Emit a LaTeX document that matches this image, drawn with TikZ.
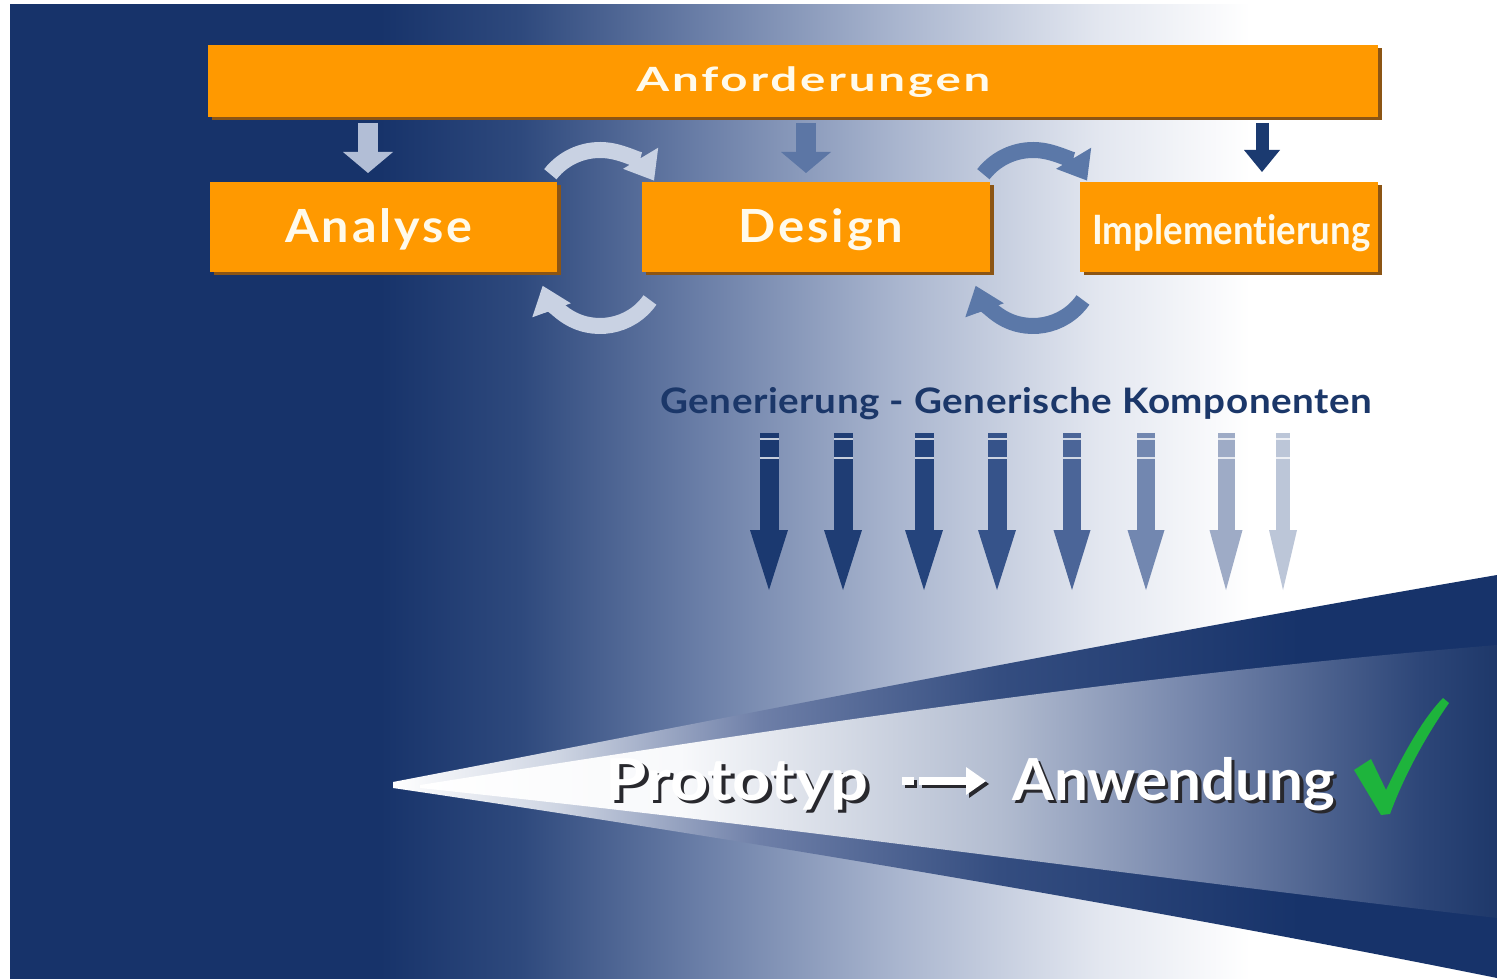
\documentclass[tikz,border=0pt]{standalone}
\usepackage{fontspec}
\usepackage{graphicx}
\newfontfamily\lato[Ligatures=NoCommon]{Lato}
\newfontfamily\latosp[LetterSpace=6,Ligatures=NoCommon]{Lato}
\newfontfamily\latogen[LetterSpace=1.5,Ligatures=NoCommon]{Lato}
\usetikzlibrary{arrows.meta}
\definecolor{navy}{RGB}{23,51,106}
\definecolor{org}{RGB}{255,153,0}
\definecolor{orgsh}{RGB}{140,85,20}
\definecolor{boxtext}{RGB}{255,250,235}
\definecolor{gtext}{RGB}{27,55,105}
\definecolor{dA}{RGB}{178,190,214}
\definecolor{dB}{RGB}{92,118,165}
\definecolor{dC}{RGB}{27,58,112}
\definecolor{cA}{RGB}{201,210,227}
\definecolor{cB}{RGB}{91,120,168}
\definecolor{g1}{RGB}{27,57,112}
\definecolor{g2}{RGB}{31,61,116}
\definecolor{g3}{RGB}{37,68,124}
\definecolor{g4}{RGB}{54,83,138}
\definecolor{g5}{RGB}{75,101,152}
\definecolor{g6}{RGB}{114,135,176}
\definecolor{g7}{RGB}{158,171,198}
\definecolor{g8}{RGB}{188,198,216}
\definecolor{b1}{RGB}{46,73,125}
\definecolor{b2}{RGB}{106,126,167}
\definecolor{b3}{RGB}{170,182,207}
\definecolor{b4}{RGB}{227,231,240}
\definecolor{r1}{RGB}{205,212,226}
\definecolor{r2}{RGB}{110,127,168}
\definecolor{r3}{RGB}{52,77,128}
\definecolor{i1}{RGB}{248,249,251}
\definecolor{i2}{RGB}{178,188,208}
\definecolor{i3}{RGB}{115,132,170}
\definecolor{i4}{RGB}{45,70,120}
\definecolor{i5}{RGB}{30,56,106}
\definecolor{check}{RGB}{30,180,60}
\definecolor{shd}{RGB}{40,40,45}
% background: x 10..1497 -> 25bp..75bp
\pgfdeclarehorizontalshading{bgsh}{100bp}{color(0bp)=(navy); color(25bp)=(navy); color(37.44bp)=(navy); color(42.15bp)=(b1); color(48.2bp)=(b2); color(54.93bp)=(b3); color(61.65bp)=(b4); color(66.7bp)=(white); color(100bp)=(white)}
% rim: x 393..1497
\pgfdeclarehorizontalshading{rimsh}{100bp}{color(0bp)=(white); color(25bp)=(white); color(32.56bp)=(r1); color(41.62bp)=(r2); color(52.49bp)=(r3); color(66.08bp)=(navy); color(100bp)=(navy)}
% interior: x 420..1497
\pgfdeclarehorizontalshading{insh}{100bp}{color(0bp)=(white); color(25bp)=(white); color(37.07bp)=(i1); color(51.93bp)=(i2); color(61.21bp)=(i3); color(71.43bp)=(i4); color(75bp)=(i5); color(100bp)=(i5)}
\newcommand\fitw[2]{\resizebox{#1}{\height}{#2}}
\newcommand\shdw[1]{\makebox[0pt][l]{\kern1.8pt\raisebox{-1.8pt}{\textcolor{shd}{#1}}}#1}
\begin{document}
\begin{tikzpicture}[x=0.02cm,y=0.02cm,
  box/.style={fill=org, inner sep=0, anchor=south west,
    preaction={fill=orgsh, transform canvas={shift={(0.07cm,-0.07cm)}}}},
  boxtxt/.style={text=boxtext, inner sep=0, anchor=base west},
  blk/.style={line width=0.4cm, -{Triangle[width=1cm,length=0.42cm,line width=0pt]}},
  blkthin/.style={line width=0.26cm, -{Triangle[width=0.72cm,length=0.44cm,line width=0pt]}},
  circarr/.style={line width=0.32cm, -{Triangle[width=0.82cm,length=0.52cm,line width=0pt]}},
  bigtxt/.style={inner sep=0, anchor=base west, text=white},
  parr/.style={line width=0.16cm, dash pattern=on 0.24cm off 0.1cm on 3cm,
    -{Triangle[width=0.56cm,length=0.4cm,line width=0pt]}},
]
\useasboundingbox (0,0) rectangle (1497,978);
% background
\fill[white] (0,0) rectangle (1497,978);
\shade[shading=bgsh] (10,0) rectangle (1497,973);

% wedge: rim
\shade[shading=rimsh] (393,196) .. controls (700,255) and (1100,335) .. (1497,403) -- (1497,0)
      .. controls (1200,60) and (800,130) .. (393,190) -- cycle;
% wedge: interior
\shade[shading=insh] (420,193) .. controls (750,245) and (1100,300) .. (1497,333) -- (1497,60)
      .. controls (1150,100) and (800,150) .. (420,190) -- cycle;

% boxes
\node[box, minimum width=23.4cm, minimum height=1.44cm] (anf) at (208,861) {};
\node[box, minimum width=6.94cm, minimum height=1.8cm] (ana) at (210,706) {};
\node[box, minimum width=6.96cm, minimum height=1.8cm] (des) at (642,706) {};
\node[box, minimum width=5.96cm, minimum height=1.8cm] (imp) at (1080,706) {};
\node[boxtxt] (anft) at (636,886) {\fitw{7.08cm}{\latosp\bfseries\fontsize{19}{19}\selectfont Anforderungen}};
\node[boxtxt] (anat) at (285,735) {\fitw{3.74cm}{\latosp\bfseries\fontsize{26}{26}\selectfont Analyse}};
\node[boxtxt] (dest) at (738,735) {\fitw{3.3cm}{\latosp\bfseries\fontsize{26}{26}\selectfont Design}};
\node[boxtxt] (impt) at (1092,733) {\fitw{5.56cm}{\lato\bfseries\fontsize{23}{23}\selectfont Implementierung}};

% down arrows from Anforderungen
\coordinate (d1s) at (368,855); \coordinate (d1e) at (368,805);
\coordinate (d2s) at (806,855); \coordinate (d2e) at (806,805);
\coordinate (d3s) at (1262,855); \coordinate (d3e) at (1262,806);
\draw[blk, dA] (d1s) -- (d1e);
\draw[blk, dB] (d2s) -- (d2e);
\draw[blkthin, dC] (d3s) -- (d3e);

% circular arrows
\coordinate (c1t) at (600,765); \coordinate (c1b) at (600,713);
\coordinate (c2t) at (1033,765); \coordinate (c2b) at (1033,713);
\draw[circarr, cA] (c1t) ++(142:63) arc[start angle=142, end angle=31, radius=63];
\draw[circarr, cA] (c1b) ++(-35:61) arc[start angle=-35, end angle=-160, radius=61];
\draw[circarr, cB] (c2t) ++(142:63) arc[start angle=142, end angle=31, radius=63];
\draw[circarr, cB] (c2b) ++(-35:61) arc[start angle=-35, end angle=-160, radius=61];

% Generierung text
\node[inner sep=0, anchor=base west, text=gtext] (gen) at (660,564)
  {\fitw{14.24cm}{\latogen\bfseries\fontsize{20}{20}\selectfont Generierung - Generische Komponenten}};

% generation arrows
\foreach \n/\x/\c/\sw/\hw/\hs in {1/769/g1/0.38cm/0.76cm/9.5,2/843/g2/0.38cm/0.76cm/9.5,3/924/g3/0.38cm/0.76cm/9.5,4/997/g4/0.38cm/0.76cm/9.5,5/1072/g5/0.37cm/0.74cm/9.2,6/1146/g6/0.37cm/0.74cm/9.2,7/1226/g7/0.34cm/0.66cm/8.5,8/1283/g8/0.28cm/0.56cm/7}{
  \coordinate (gs\n) at (\x,545);
  \coordinate (ge\n) at (\x,388);
  \draw[\c, line width=\sw, -{Triangle[width=\hw,length=1.2cm,line width=0pt]}] (gs\n) -- (ge\n);
  \draw[white, opacity=0.75, line width=0.05cm] (\x-\hs,539) -- (\x+\hs,539);
  \draw[white, opacity=0.75, line width=0.05cm] (\x-\hs,520) -- (\x+\hs,520);
}

% bottom text with shadows
\node[bigtxt] (proto) at (605,178) {\fitw{5.26cm}{\lato\bfseries\fontsize{33}{33}\selectfont\shdw{Prototyp}}};
\node[bigtxt] (anw) at (1012,178) {\fitw{6.46cm}{\lato\bfseries\fontsize{33}{33}\selectfont\shdw{Anwendung}}};
\coordinate (pa) at (902,197);
\coordinate (pb) at (986,197);
\draw[parr, shd, transform canvas={shift={(0.06cm,-0.06cm)}}] (pa) -- (pb);
\draw[parr, white] (pa) -- (pb);

% check mark
\fill[check] (1354,208) -- (1371,219) -- (1386,188)
  .. controls (1405,228) and (1425,262) .. (1443,280) -- (1449,275)
  .. controls (1428,245) and (1405,205) .. (1390,164) -- (1381,163) -- cycle;
\end{tikzpicture}
\end{document}
